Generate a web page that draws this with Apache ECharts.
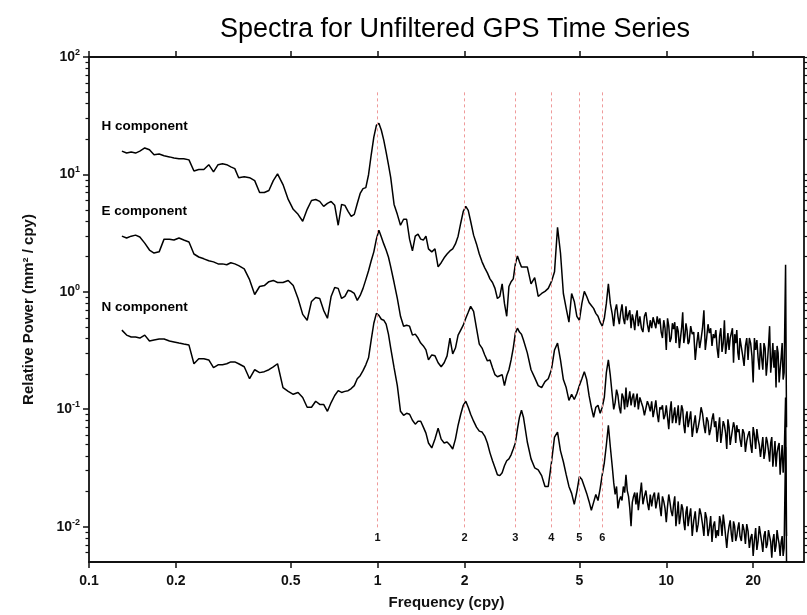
<!DOCTYPE html>
<html><head><meta charset="utf-8">
<script src="https://cdn.jsdelivr.net/npm/echarts@6/dist/echarts.min.js"></script>
<style>html,body{margin:0;padding:0;background:#fff}#c{width:807px;height:615px}</style>
</head><body><div id="c"></div>
<script>
// Frequencies (cpy) shared by the three spectra
const freq = [
0.13,0.135,0.14,0.145,0.15,0.156,0.162,0.168,0.175,0.182,
0.19,0.197,0.205,0.213,0.222,0.231,0.24,0.25,0.26,0.27,
0.28,0.29,0.30,0.31,0.32,0.33,0.345,0.36,0.375,0.39,
0.405,0.42,0.435,0.45,0.47,0.49,0.51,0.53,0.55,0.57,
0.59,0.61,0.63,0.65,0.67,0.69,0.71,0.73,0.75,0.77,
0.79,0.81,0.83,0.85,0.87,0.89,0.91,0.93,0.95,0.97,
0.99,1.01,1.03,1.05,1.07,1.09,1.11,1.14,1.17,1.2,
1.23,1.26,1.29,1.32,1.35,1.38,1.41,1.44,1.47,1.5,
1.54,1.58,1.62,1.66,1.7,1.74,1.78,1.82,1.86,1.9,
1.94,1.98,2.02,2.06,2.1,2.15,2.2,2.25,2.3,2.35,
2.4,2.45,2.5,2.55,2.6,2.65,2.7,2.75,2.8,2.85,
2.9,2.95,3.0,3.05,3.1,3.15,3.2,3.3,3.4,3.5,
3.6,3.7,3.8,3.9,4.0,4.1,4.2,4.3,4.4,4.5,
4.6,4.7,4.8,4.9,5.0,5.1,5.2,5.3,5.4,5.5,
5.6,5.7,5.8,5.9,6.0,6.1,6.2,6.3,6.4,
6.5,6.575,6.65,6.725,6.8,6.875,6.95,7.025,7.1,7.175,7.25,7.325,7.4,7.475,7.55,7.625,7.7,7.775,7.85,7.925,8.0,
8.1,8.2,8.3,8.4,8.5,8.6,8.7,8.8,8.9,9.0,9.1,9.2,9.3,9.4,9.5,9.6,9.7,9.8,9.9,10,
10.1,10.2,10.3,10.4,10.5,10.6,10.7,10.8,10.9,11.0,11.1,11.2,11.3,11.4,11.5,11.6,11.7,11.8,11.9,12.0,
12.15,12.3,12.45,12.6,12.75,12.9,13.05,13.2,13.35,13.5,13.65,13.8,13.95,14.1,14.25,14.4,14.55,14.7,14.85,15.0,
15.15,15.3,15.45,15.6,15.75,15.9,16.05,16.2,16.35,16.5,16.65,16.8,16.95,17.1,17.25,17.4,17.55,17.7,17.85,18.0,
18.2,18.4,18.6,18.8,19.0,19.2,19.4,19.6,19.8,20.0,20.2,20.4,20.6,20.8,21.0,21.2,21.4,21.6,21.8,22.0,
22.2,22.4,22.6,22.8,23.0,23.2,23.4,23.6,23.8,24.0,24.2,24.4,24.6,24.8,25.0,25.2,25.4,25.6,25.9,26.1];

// Relative power (mm^2/cpy)
const hComponent = [
15.8,15.2,15.5,15.2,15.8,16.8,16.2,14.7,14.9,14.4,
14.1,13.8,13.6,13.6,13.3,10.7,11.0,11.0,12.1,10.5,
12.1,12.3,12.1,11.6,11.2,9.38,9.56,9.38,8.85,7.01,
7.01,7.29,8.85,10.1,8.19,6.12,5.04,4.57,3.99,5.04,
6.00,6.12,5.89,5.34,5.66,5.89,5.45,3.69,5.55,5.45,
4.85,4.40,4.57,5.66,6.88,7.57,7.72,9.94,14.7,20.8,
26.2,27.3,23.8,19.6,15.5,12.1,9.38,5.55,4.57,3.69,
4.15,4.15,2.81,2.23,2.98,3.10,2.81,2.76,2.98,2.32,
2.19,2.32,1.63,1.77,1.95,2.10,2.23,2.32,2.56,2.98,
3.84,4.85,5.34,4.94,3.99,3.04,2.56,2.10,1.80,1.60,
1.45,1.29,1.20,1.07,0.878,0.913,1.17,0.797,0.619,1.11,
1.22,1.29,1.73,2.02,1.80,1.63,1.63,1.63,1.17,1.32,
0.913,0.968,1.01,1.07,1.22,1.48,3.55,2.14,0.968,0.723,
0.551,0.968,0.828,0.619,0.573,0.797,1.01,0.913,0.812,0.766,
0.723,0.656,0.619,0.551,0.510,0.595,0.797,1.17,0.797,
0.643,0.510,0.696,0.781,0.619,0.530,0.669,0.781,0.595,0.530,0.752,0.573,0.643,0.696,0.490,0.643,0.573,0.472,0.619,0.696,0.510,
0.619,0.490,0.454,0.619,0.669,0.530,0.454,0.573,0.490,0.607,0.619,0.490,0.619,0.530,0.595,0.454,0.404,0.573,0.490,0.320,
0.595,0.510,0.374,0.404,0.540,0.481,0.551,0.366,0.510,0.463,0.332,0.404,0.490,0.669,0.366,0.420,0.540,0.472,0.359,0.374,
0.510,0.436,0.454,0.263,0.359,0.454,0.332,0.396,0.490,0.696,0.320,0.404,0.530,0.445,0.490,0.346,0.436,0.404,0.472,0.332,
0.274,0.420,0.490,0.308,0.366,0.573,0.296,0.359,0.445,0.320,0.404,0.389,0.490,0.249,0.436,0.366,0.472,0.302,0.263,0.404,
0.420,0.285,0.234,0.346,0.404,0.263,0.404,0.366,0.285,0.169,0.404,0.320,0.389,0.274,0.217,0.366,0.274,0.217,0.366,0.332,
0.193,0.249,0.346,0.510,0.205,0.263,0.366,0.226,0.320,0.153,0.346,0.302,0.169,0.217,0.274,0.366,0.179,0.205,1.70,0.0704];

const eComponent = [
2.98,2.87,2.98,3.04,2.93,2.60,2.27,2.14,2.19,2.81,
2.81,2.76,2.87,2.76,2.66,2.10,1.98,1.91,1.84,1.80,
1.73,1.73,1.70,1.77,1.73,1.67,1.57,1.27,0.949,1.11,
1.13,1.22,1.25,1.20,1.20,1.25,1.13,0.878,0.643,0.573,
0.828,0.895,0.878,0.696,0.595,0.913,1.09,1.07,0.878,0.913,
1.03,1.01,0.968,0.845,0.931,1.07,1.27,1.51,1.84,2.19,
2.81,3.35,2.93,2.56,2.27,1.98,1.63,1.20,0.878,0.619,
0.510,0.520,0.510,0.428,0.436,0.404,0.366,0.346,0.320,0.263,
0.290,0.285,0.249,0.230,0.249,0.285,0.404,0.296,0.332,0.428,
0.472,0.520,0.595,0.669,0.752,0.682,0.490,0.359,0.332,0.290,
0.258,0.263,0.226,0.197,0.189,0.193,0.197,0.159,0.193,0.217,
0.263,0.332,0.445,0.490,0.454,0.436,0.389,0.302,0.217,0.186,
0.159,0.153,0.172,0.182,0.217,0.320,0.366,0.263,0.179,0.153,
0.119,0.134,0.121,0.136,0.159,0.182,0.209,0.179,0.131,0.104,
0.0855,0.104,0.108,0.0923,0.104,0.126,0.205,0.263,0.193,
0.131,0.0998,0.114,0.147,0.131,0.104,0.0923,0.136,0.126,0.0998,0.153,0.104,0.121,0.142,0.108,0.126,0.136,0.104,0.121,0.136,0.0998,
0.126,0.114,0.104,0.0888,0.0855,0.117,0.108,0.0960,0.117,0.0855,0.0998,0.119,0.0923,0.0775,0.104,0.0998,0.108,0.0822,0.0888,0.108,
0.0855,0.0677,0.0960,0.117,0.0760,0.0888,0.104,0.0760,0.0888,0.108,0.0731,0.0855,0.108,0.0998,0.0731,0.0626,0.0855,0.0960,0.0704,0.0791,
0.0960,0.0580,0.0731,0.0888,0.0626,0.0704,0.0822,0.104,0.0923,0.0731,0.0626,0.0855,0.0791,0.0602,0.0677,0.0822,0.0923,0.0704,0.0791,0.0526,
0.0677,0.0855,0.0516,0.0626,0.0791,0.0731,0.0626,0.0459,0.0822,0.0704,0.0496,0.0580,0.0602,0.0775,0.0704,0.0516,0.0731,0.0639,0.0677,0.0557,
0.0477,0.0677,0.0626,0.0433,0.0536,0.0602,0.0651,0.0496,0.0425,0.0704,0.0602,0.0459,0.0677,0.0557,0.0496,0.0393,0.0477,0.0580,0.0378,0.0433,
0.0580,0.0526,0.0442,0.0357,0.0516,0.0580,0.0324,0.0409,0.0536,0.0324,0.0425,0.0477,0.0516,0.0277,0.0378,0.0496,0.0288,0.0378,0.126,0.00832];

const nComponent = [
0.472,0.428,0.412,0.412,0.404,0.428,0.381,0.389,0.396,0.396,
0.381,0.374,0.366,0.359,0.352,0.244,0.269,0.269,0.263,0.226,
0.239,0.239,0.244,0.253,0.253,0.244,0.230,0.182,0.217,0.205,
0.209,0.217,0.230,0.244,0.153,0.142,0.134,0.139,0.126,0.104,
0.104,0.117,0.110,0.110,0.0960,0.114,0.131,0.144,0.139,0.142,
0.144,0.150,0.159,0.182,0.193,0.213,0.239,0.274,0.389,0.540,
0.656,0.631,0.584,0.573,0.530,0.436,0.332,0.226,0.159,0.0960,
0.0888,0.0923,0.0906,0.0806,0.0746,0.0791,0.0791,0.0704,0.0626,0.0516,
0.0468,0.0557,0.0690,0.0557,0.0516,0.0526,0.0496,0.0459,0.0557,0.0731,
0.0906,0.108,0.117,0.104,0.0906,0.0791,0.0704,0.0651,0.0639,0.0591,
0.0516,0.0425,0.0364,0.0317,0.0277,0.0272,0.0288,0.0330,0.0364,0.0378,
0.0409,0.0459,0.0516,0.0677,0.0855,0.0979,0.0855,0.0526,0.0378,0.0317,
0.0305,0.0272,0.0220,0.0220,0.0350,0.0580,0.0639,0.0442,0.0357,0.0277,
0.0220,0.0192,0.0155,0.0199,0.0267,0.0252,0.0220,0.0192,0.0164,0.0138,
0.0161,0.0188,0.0167,0.0211,0.0277,0.0350,0.0496,0.0731,0.0477,
0.0324,0.0237,0.0188,0.0220,0.0143,0.0167,0.0181,0.0167,0.0220,0.0195,0.0277,0.0203,0.0181,0.0143,0.0101,0.0161,0.0181,0.0195,0.0155,0.0195,0.0138,
0.0181,0.0237,0.0155,0.0181,0.0203,0.0161,0.0138,0.0188,0.0149,0.0181,0.0195,0.0143,0.0167,0.0195,0.0149,0.0123,0.0181,0.0164,0.0143,0.0109,
0.0149,0.0188,0.0161,0.0135,0.0123,0.0155,0.0181,0.0101,0.0127,0.0164,0.0105,0.0123,0.0155,0.0143,0.0109,0.00934,0.0133,0.0149,0.0101,0.0118,
0.0143,0.00832,0.0113,0.0135,0.00899,0.0105,0.0143,0.0127,0.0105,0.00832,0.0133,0.0118,0.00832,0.00971,0.0123,0.00740,0.0101,0.0111,0.00800,0.00934,
0.00832,0.0123,0.0109,0.00832,0.0127,0.0105,0.00832,0.00659,0.00865,0.0101,0.0113,0.00865,0.00740,0.0111,0.0101,0.00755,0.00832,0.00971,0.0109,0.00832,
0.00755,0.0105,0.00934,0.00712,0.0105,0.00917,0.00659,0.00800,0.00865,0.00564,0.00769,0.00971,0.00634,0.00755,0.0101,0.00865,0.00740,0.00610,0.00832,0.00917,
0.00659,0.00712,0.00934,0.00832,0.00740,0.00543,0.00769,0.00865,0.00610,0.00685,0.00934,0.00800,0.00712,0.00564,0.00740,0.00832,0.00564,0.00659,0.0477,0.0050];

// Harmonic marker lines (cpy) and their vertical span
const harmonics = [1, 2, 3, 4, 5, 6];
const harmonicSpan = [50, 0.0098];

// Component labels (position in data units)
const componentNames = ['H component', 'E component', 'N component'];
const componentLabelFreq = [0.110, 0.110, 0.110];
const componentLabelPower = [25.7, 4.85, 0.74];

// Axis ranges and ticks
const xRange = [0.1, 30];
const yRange = [0.005, 100];
const xTickValues = [0.1, 0.2, 0.5, 1, 2, 5, 10, 20];
const xTickLabels = ['0.1', '0.2', '0.5', '1', '2', '5', '10', '20'];
const yTickValues = [0.01, 0.1, 1, 10, 100];
const yTickExponents = ['-2', '-1', '0', '1', '2'];
const yMinorTickValues = [0.006,0.007,0.008,0.009,
  0.02,0.03,0.04,0.05,0.06,0.07,0.08,0.09,
  0.2,0.3,0.4,0.5,0.6,0.7,0.8,0.9,
  2,3,4,5,6,7,8,9,
  20,30,40,50,60,70,80,90];

const L = Math.log10;
const ink = '#111';
const font = 'Liberation Sans';
const axisLine = { show: true, onZero: false, lineStyle: { color: ink, width: 1.8 } };
const near = (a, b) => Math.abs(a - b) < 1e-6;

function pairs(vals) { return freq.map((f, i) => [f, vals[i]]); }

const lxTicks = xTickValues.map(L);
const lyTicks = yTickValues.map(L);
const lyMinor = yMinorTickValues.map(L);

const spectrumStyle = { color: '#000', width: 1.5 };

const chart = echarts.init(document.getElementById('c'), null, { renderer: 'canvas', devicePixelRatio: 1 });
chart.setOption({
  animation: false,
  backgroundColor: '#fff',
  textStyle: { fontFamily: font },
  title: {
    text: 'Spectra for Unfiltered GPS Time Series',
    left: 450, top: 11, textAlign: 'center',
    textStyle: { fontFamily: font, fontSize: 27, fontWeight: 'normal', color: '#000' }
  },
  grid: { left: 89, right: 3, top: 57, bottom: 49 },
  xAxis: [
    { type: 'log', min: xRange[0], max: xRange[1], show: false },
    {
      type: 'value', min: L(xRange[0]), max: L(xRange[1]), position: 'bottom',
      axisLine: axisLine,
      axisTick: { show: true, customValues: lxTicks, length: 6, inside: false, lineStyle: { color: ink, width: 1.5 } },
      axisLabel: {
        show: true, customValues: lxTicks, margin: 12, color: ink, fontSize: 14, fontWeight: 'bold', fontFamily: font,
        formatter: v => { const i = lxTicks.findIndex(t => near(t, v)); return i >= 0 ? xTickLabels[i] : ''; }
      },
      splitLine: { show: false },
      name: 'Frequency (cpy)', nameLocation: 'middle', nameGap: 33,
      nameTextStyle: { color: ink, fontSize: 15, fontWeight: 'bold', fontFamily: font }
    },
    {
      type: 'value', min: L(xRange[0]), max: L(xRange[1]), position: 'top',
      axisLine: axisLine,
      axisTick: { show: true, customValues: lxTicks, length: 6, inside: false, lineStyle: { color: ink, width: 1.5 } },
      axisLabel: { show: false },
      splitLine: { show: false }
    }
  ],
  yAxis: [
    { type: 'log', min: yRange[0], max: yRange[1], show: false },
    {
      type: 'value', min: L(yRange[0]), max: L(yRange[1]), position: 'left',
      axisLine: axisLine,
      axisTick: { show: true, customValues: lyTicks, length: 6, inside: false, lineStyle: { color: ink, width: 1.5 } },
      axisLabel: {
        show: true, customValues: lyTicks, margin: 9, color: ink, fontFamily: font,
        formatter: v => { const i = lyTicks.findIndex(t => near(t, v)); return i >= 0 ? '{b|10}{s|' + yTickExponents[i] + '}' : ''; },
        rich: {
          b: { fontSize: 14, fontWeight: 'bold', lineHeight: 18, color: ink, fontFamily: font },
          s: { fontSize: 9, fontWeight: 'bold', lineHeight: 10, verticalAlign: 'top', color: ink, fontFamily: font }
        }
      },
      splitLine: { show: false },
      name: 'Relative Power (mm² / cpy)', nameLocation: 'middle', nameGap: 53, nameRotate: 90,
      nameTextStyle: { color: ink, fontSize: 15, fontWeight: 'bold', fontFamily: font }
    },
    {
      type: 'value', min: L(yRange[0]), max: L(yRange[1]), position: 'left',
      axisLine: { show: false, onZero: false },
      axisTick: { show: true, customValues: lyMinor, length: 3.5, inside: false, lineStyle: { color: ink, width: 1.2 } },
      axisLabel: { show: false },
      splitLine: { show: false }
    },
    {
      type: 'value', min: L(yRange[0]), max: L(yRange[1]), position: 'right',
      axisLine: axisLine,
      axisTick: { show: true, customValues: lyTicks.concat(lyMinor), length: 3, inside: false, lineStyle: { color: ink, width: 1.2 } },
      axisLabel: { show: false },
      splitLine: { show: false }
    }
  ],
  series: [
    {
      type: 'line', data: [], silent: true,
      markLine: {
        silent: true, symbol: 'none', animation: false,
        lineStyle: { color: '#ef9a9a', type: [3, 3], width: 1 },
        label: { show: true, position: 'end', distance: 5, color: ink, fontSize: 11, fontWeight: 'bold', fontFamily: font,
          formatter: p => p.name },
        data: harmonics.map(h => [
          { name: String(h), coord: [h, harmonicSpan[0]] },
          { coord: [h, harmonicSpan[1]] }
        ])
      }
    },
    { type: 'line', name: 'H component', data: pairs(hComponent), symbol: 'none', showSymbol: false, lineStyle: spectrumStyle, silent: true, z: 3 },
    { type: 'line', name: 'E component', data: pairs(eComponent), symbol: 'none', showSymbol: false, lineStyle: spectrumStyle, silent: true, z: 3 },
    { type: 'line', name: 'N component', data: pairs(nComponent), symbol: 'none', showSymbol: false, lineStyle: spectrumStyle, silent: true, z: 3 },
    {
      type: 'scatter', silent: true, symbolSize: 1, itemStyle: { color: '#fff', opacity: 1 },
      label: { show: true, position: 'right', distance: 0, color: '#000', opacity: 1, fontSize: 13.5, fontWeight: 'bold', fontFamily: font, formatter: p => p.name },
      data: componentNames.map((n, i) => ({ name: n, value: [componentLabelFreq[i], componentLabelPower[i]] }))
    }
  ]
});
</script>
</body></html>
